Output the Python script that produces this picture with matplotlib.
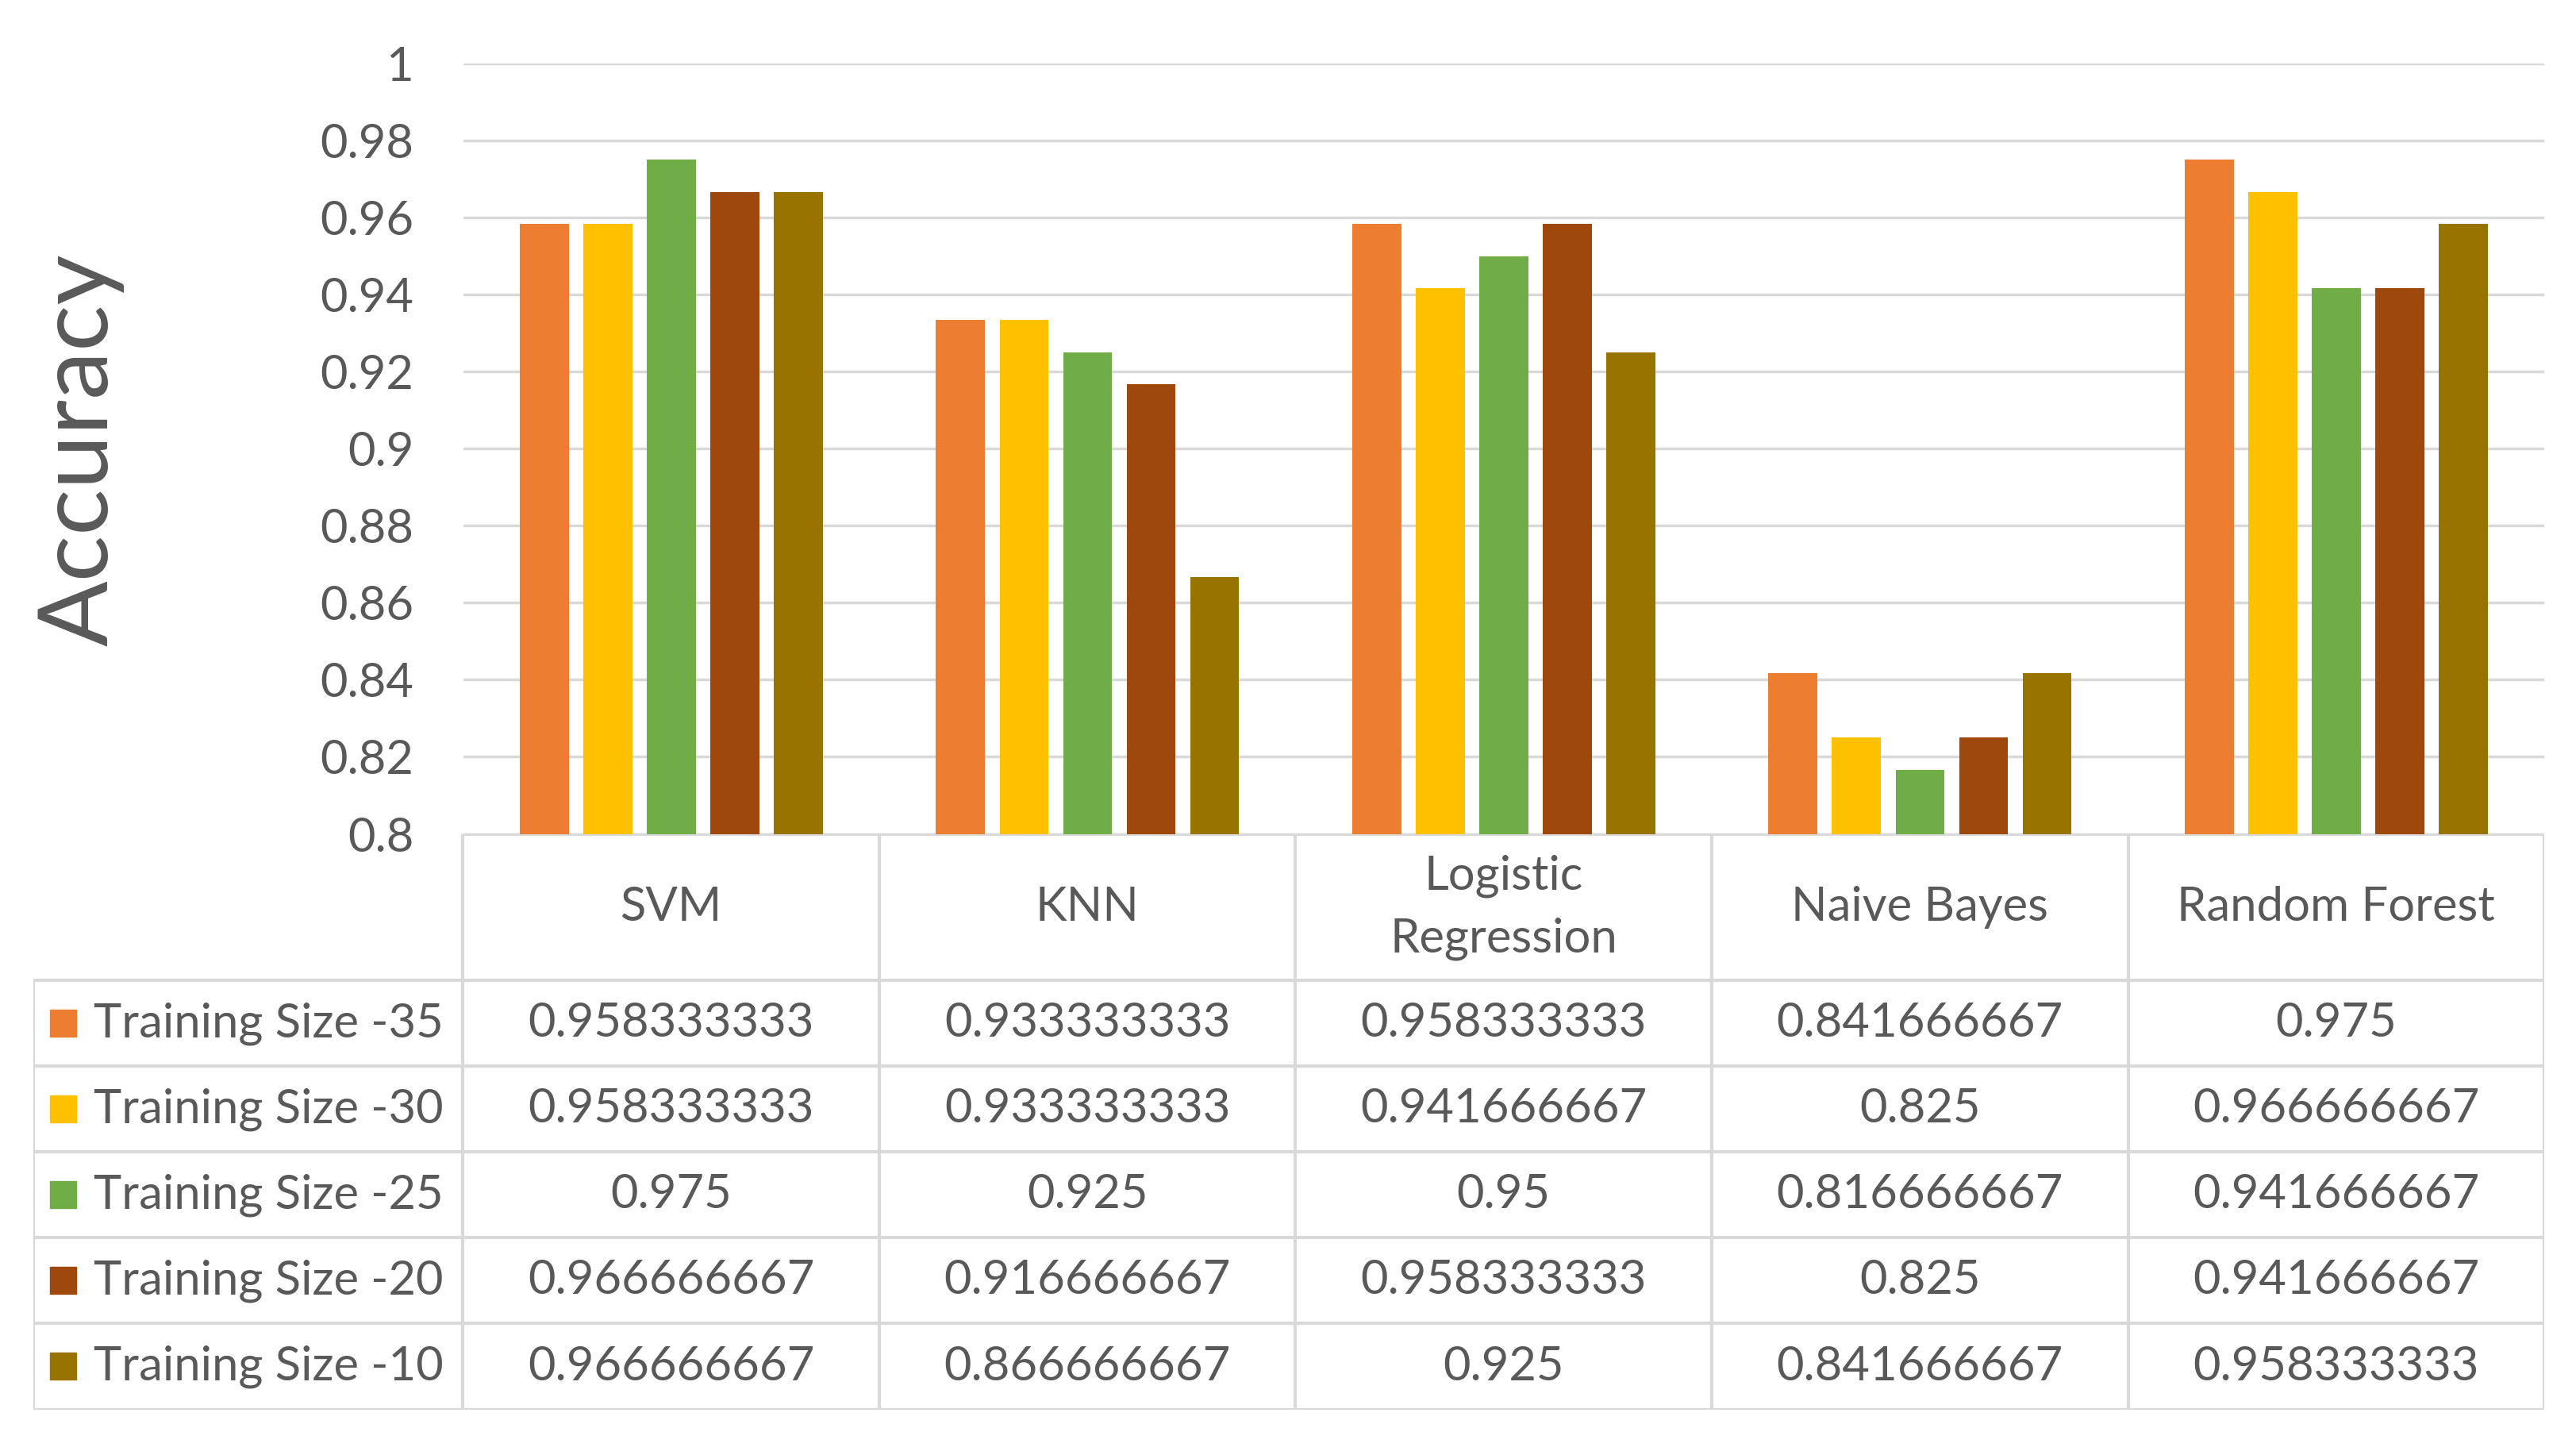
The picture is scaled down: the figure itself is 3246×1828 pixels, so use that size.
import matplotlib.pyplot as plt
from matplotlib.patches import Rectangle
import numpy as np

plt.rcParams['font.family'] = ['Lato', 'DejaVu Sans']

models = ["SVM", "KNN", "Logistic\nRegression", "Naive Bayes", "Random Forest"]
series = ["Training Size -35", "Training Size -30", "Training Size -25",
          "Training Size -20", "Training Size -10"]
acc_35 = [0.958333333, 0.933333333, 0.958333333, 0.841666667, 0.975]
acc_30 = [0.958333333, 0.933333333, 0.941666667, 0.825, 0.966666667]
acc_25 = [0.975, 0.925, 0.95, 0.816666667, 0.941666667]
acc_20 = [0.966666667, 0.916666667, 0.958333333, 0.825, 0.941666667]
acc_10 = [0.966666667, 0.866666667, 0.925, 0.841666667, 0.958333333]
yticks = [0.8, 0.82, 0.84, 0.86, 0.88, 0.9, 0.92, 0.94, 0.96, 0.98, 1]

values = [acc_35, acc_30, acc_25, acc_20, acc_10]
colors = ["#ED7D31", "#FFC000", "#70AD47", "#9E480E", "#997300"]
txt = "#595959"
grid = "#D9D9D9"
fs = 43

fig = plt.figure(figsize=(32.46, 18.28), dpi=100)

# bar chart area
ax = fig.add_axes([0.1798, 0.4253, 0.9877 - 0.1798, 0.9563 - 0.4253])
x = np.arange(len(models))
step = 0.1526
width = 0.1175
for i, (vals, c) in enumerate(zip(values, colors)):
    ax.bar(x + (i - 2) * step, vals, width=width, color=c, zorder=3)
ax.set_xlim(-0.5, len(models) - 0.5)
ax.set_ylim(0.8, 1.0)
ax.set_yticks(yticks)
ax.set_yticklabels([f"{t:g}" for t in yticks])
ax.tick_params(axis="y", length=0, pad=45, labelsize=fs, labelcolor=txt)
ax.set_xticks([])
ax.grid(axis="y", color=grid, linewidth=2.5, zorder=0)
for s in ax.spines.values():
    s.set_visible(False)

fig.text(0.031, 0.69, "Accuracy", rotation=90, ha="center", va="center",
         fontsize=88, color=txt)

# data table under the bars
head_h = 1.71
n_rows = len(series)
total_h = head_h + n_rows
leg_w = 1.032
tab = fig.add_axes([0.0129, 0.0287, 0.9877 - 0.0129, 0.4253 - 0.0287])
tab.set_xlim(-0.5 - leg_w, len(models) - 0.5)
tab.set_ylim(total_h, 0)
tab.axis("off")

lw = 3
# horizontal lines
tab.plot([-0.5, len(models) - 0.5], [0, 0], color=grid, lw=lw, solid_capstyle="projecting")
for k in range(n_rows + 1):
    tab.plot([-0.5 - leg_w, len(models) - 0.5], [head_h + k, head_h + k], color=grid, lw=lw,
             solid_capstyle="projecting")
# vertical lines
for j in range(len(models) + 1):
    tab.plot([j - 0.5, j - 0.5], [0, total_h], color=grid, lw=lw, solid_capstyle="projecting")
tab.plot([-0.5 - leg_w, -0.5 - leg_w], [head_h, total_h], color=grid, lw=lw,
         solid_capstyle="projecting")

# header
for j, m in enumerate(models):
    tab.text(j, head_h / 2, m, ha="center", va="center", fontsize=fs, color=txt,
             linespacing=1.55)

# rows
for i, (name, vals, c) in enumerate(zip(series, values, colors)):
    yc = head_h + i + 0.5
    tab.add_patch(Rectangle((-0.5 - leg_w + 0.04, yc - 0.16), 0.064, 0.31,
                            color=c, clip_on=False))
    tab.text(-0.5 - leg_w + 0.145, yc, name, ha="left", va="center",
             fontsize=fs, color=txt)
    for j, v in enumerate(vals):
        tab.text(j, yc, f"{v:.9g}", ha="center", va="center", fontsize=fs, color=txt)

fig.savefig("out.png", dpi=100, facecolor="white")
